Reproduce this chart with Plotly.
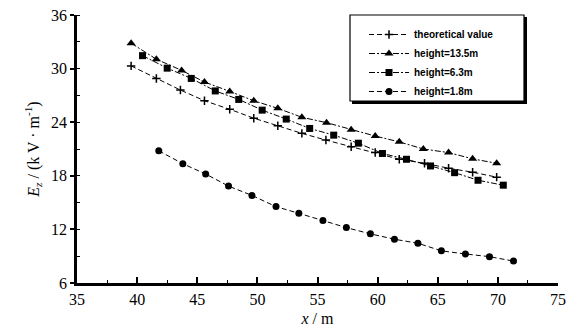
import plotly.graph_objects as go

# theoretical value
x_theo = [39.5, 41.6, 43.6, 45.6, 47.7, 49.7, 51.7, 53.7, 55.7, 57.8, 59.8, 61.8, 63.9, 65.9, 67.9, 69.9]
y_theo = [30.3, 28.9, 27.6, 26.4, 25.45, 24.45, 23.6, 22.75, 22.0, 21.25, 20.6, 19.85, 19.4, 18.85, 18.4, 17.85]
# height = 13.5 m
x_h135 = [39.5, 41.6, 43.7, 45.6, 47.7, 49.7, 51.7, 53.7, 55.75, 57.8, 59.8, 61.8, 63.8, 65.9, 67.9, 69.9]
y_h135 = [32.85, 31.05, 29.8, 28.5, 27.45, 26.4, 25.55, 24.55, 23.95, 23.15, 22.45, 21.8, 21.0, 20.6, 19.9, 19.4]
# height = 6.3 m
x_h63 = [40.45, 42.5, 44.5, 46.5, 48.45, 50.4, 52.4, 54.35, 56.35, 58.4, 60.4, 62.4, 64.4, 66.4, 68.35, 70.45]
y_h63 = [31.45, 30.05, 28.9, 27.5, 26.55, 25.35, 24.35, 23.3, 22.55, 21.65, 20.5, 19.85, 19.1, 18.35, 17.5, 16.95]
# height = 1.8 m
x_h18 = [41.8, 43.8, 45.7, 47.6, 49.55, 51.55, 53.45, 55.45, 57.4, 59.4, 61.4, 63.35, 65.3, 67.3, 69.3, 71.3]
y_h18 = [20.8, 19.35, 18.2, 16.85, 15.8, 14.55, 13.8, 13.0, 12.2, 11.5, 10.9, 10.45, 9.6, 9.25, 8.95, 8.45]

series_names = ["theoretical value", "height=13.5m", "height=6.3m", "height=1.8m"]
xticks = [35, 40, 45, 50, 55, 60, 65, 70, 75]
yticks = [6, 12, 18, 24, 30, 36]

fig = go.Figure()
specs = [
    (x_theo, y_theo, "cross-thin", 6, "5px,3px"),
    (x_h135, y_h135, "triangle-up", 8, "6px,2px,2px,2px"),
    (x_h63, y_h63, "square", 7, "6px,2px,2px,2px"),
    (x_h18, y_h18, "circle", 7, "5px,3px"),
]
for (xs, ys, sym, sz, dash), name in zip(specs, series_names):
    fig.add_trace(go.Scatter(
        x=xs, y=ys, name=name, mode="lines+markers",
        line=dict(color="black", width=1, dash=dash),
        marker=dict(symbol=sym, size=sz, color="black",
                    line=dict(color="black", width=1.5 if sym == "cross-thin" else 0)),
    ))

# legend frame (box with heavy bottom/right shadow)
L, R, T, B = 77, 558, 15, 283
def px_x(p):
    return (p - L) / (R - L)
def px_y(p):
    return (B - p) / (B - T)
fig.add_shape(type="rect", xref="paper", yref="paper",
              x0=px_x(352), x1=px_x(527), y0=px_y(104), y1=px_y(17),
              fillcolor="black", line=dict(width=0), layer="above")
fig.add_shape(type="rect", xref="paper", yref="paper",
              x0=px_x(350), x1=px_x(524), y0=px_y(101), y1=px_y(15),
              fillcolor="white", line=dict(color="black", width=1.2), layer="above")

serif = "Liberation Serif"
fig.update_layout(
    width=579, height=329,
    margin=dict(l=L, r=579 - R, t=T, b=329 - B, autoexpand=False),
    paper_bgcolor="white", plot_bgcolor="white",
    showlegend=True,
    legend=dict(
        x=px_x(364), y=px_y(20), xanchor="left", yanchor="top",
        bgcolor="rgba(0,0,0,0)", borderwidth=0,
        font=dict(family="Liberation Sans", size=10, color="black", weight="bold"),
        itemwidth=40, tracegroupgap=0,
    ),
    xaxis=dict(
        automargin=False,
        range=[35, 75], tickvals=xticks, ticktext=[str(v) for v in xticks],
        showgrid=False, zeroline=False, showline=True, linecolor="black", linewidth=2.5,
        ticks="inside", ticklen=6, tickwidth=1.5, tickcolor="black",
        minor=dict(dtick=2.5, ticks="inside", ticklen=3, tickcolor="black", tickwidth=1),
        tickfont=dict(family=serif, size=16, color="black"),
        title=dict(text="<i>x</i> / m", font=dict(family=serif, size=16, color="black"), standoff=6),
    ),
    yaxis=dict(
        automargin=False,
        range=[6, 36], tickvals=yticks, ticktext=[str(v) for v in yticks],
        showgrid=False, zeroline=False, showline=True, linecolor="black", linewidth=2.5,
        ticks="outside", ticklen=4, tickwidth=1.5, tickcolor="black",
        minor=dict(dtick=3, ticks="inside", ticklen=3, tickcolor="black", tickwidth=1),
        tickfont=dict(family=serif, size=16, color="black"),
        title=dict(text="<i>E<sub>z</sub></i> / (k V · m<sup>-1</sup>)",
                   font=dict(family=serif, size=16, color="black"), standoff=8),
    ),
)
fig.write_html("out.html")
